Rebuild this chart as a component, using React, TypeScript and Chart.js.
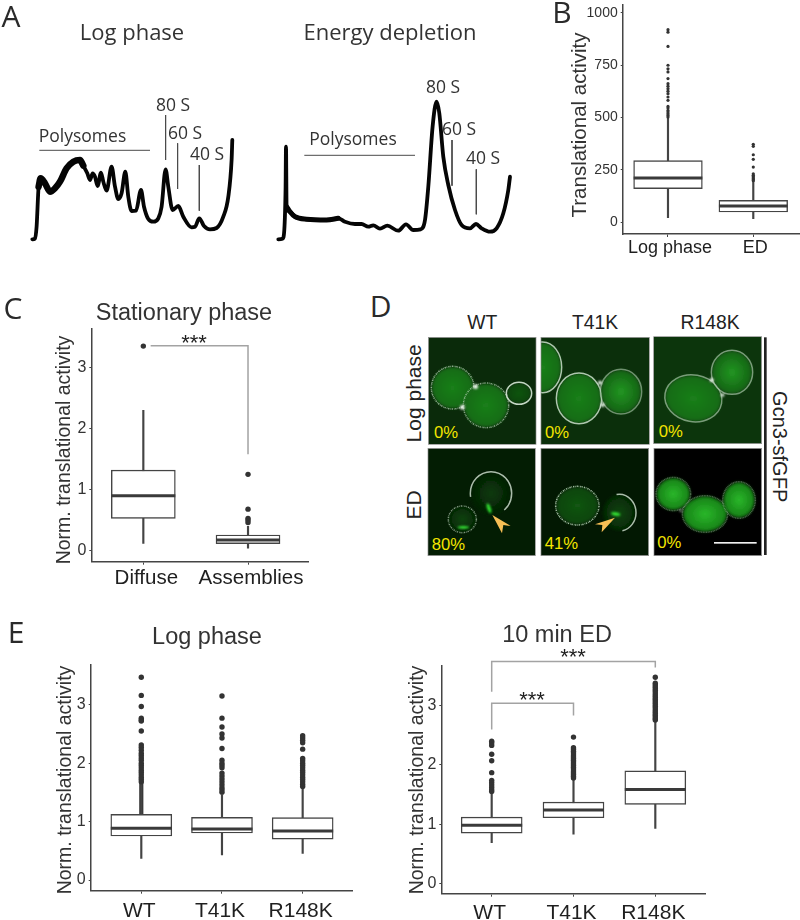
import React, { useEffect, useRef } from "react";
import { Chart, registerables } from "chart.js";

Chart.register(...registerables);

const SANS = "'Liberation Sans', Arial, sans-serif";
const HUMAN = "'Open Sans', 'Noto Sans', sans-serif";
const INK = "#333333";
const BOX = "#444444";
const BRACKET = "#a3a3a3";

/* Panel A: polysome traces */
const logTraceX = [0, 2.7, 4.3, 6.3, 8.3, 12.7, 17.7, 22.7, 27.7, 34.3, 41, 47.7, 51, 55, 57.7, 60.3, 62.7, 65.3, 68.7, 71, 74.3, 79.3, 82.7, 86, 89.3, 93, 96, 99.3, 103.7, 108.7, 111.7, 116, 121, 126, 129.3, 133.3, 136, 140.3, 146, 151, 159.3, 162.7, 167, 171.7, 177.7, 184.3, 191, 196, 199.3, 200];
const logTraceY = [0.7, 1.3, 13.3, 53.3, 61.7, 56.7, 48.3, 51.7, 58.3, 71.7, 78.3, 80, 74.3, 66.7, 60, 66.7, 63.3, 54, 67.3, 58.3, 49.3, 73.3, 53.3, 41, 46.7, 68.3, 43.3, 29, 29.3, 50, 33.3, 21, 18.3, 21.7, 33.3, 70.7, 53.3, 30, 34, 23.3, 12.7, 13.3, 21.7, 14, 10.7, 12, 23.3, 43.3, 80, 100];
const logBandX = [6.3, 8.3, 12.7, 17.7, 22.7, 27.7, 34.3, 41, 47.7, 51];
const logBandY = [53.3, 61.7, 56.7, 48.3, 51.7, 58.3, 71.7, 78.3, 80, 74.3];
const edTraceX = [0, 4.3, 6, 7.3, 7.7, 8.3, 11.7, 16.7, 28.3, 48.3, 60, 66.7, 76.7, 83.3, 90, 95, 101.7, 109, 120, 127.7, 135, 142.3, 146.7, 150, 154.3, 158.3, 161, 165, 170, 176.7, 183.3, 191.7, 197.7, 203.3, 211.7, 218.3, 225, 230, 231.7];
const edTraceY = [0.7, 1.3, 10, 53.3, 93.3, 33.3, 28.3, 23.3, 20.7, 20, 21.7, 18.3, 16, 16, 13.3, 14.7, 11.3, 14.3, 9.3, 15.7, 10, 10.7, 20, 53.3, 113.3, 138.3, 126.7, 83.3, 55, 30, 15, 11.7, 16, 11.7, 8.3, 11.7, 26.7, 50, 63.3];
const edBandX = [8.3, 11.7, 16.7, 28.3, 48.3, 60];
const edBandY = [33.3, 28.3, 23.3, 20.7, 20, 21.7];

/* Panel B */
const bCategories = ["Log phase", "ED"];
const bTicks = [0, 250, 500, 750, 1000];
const bLow = [21, 16];
const bQ1 = [160, 48];
const bMedian = [211, 77];
const bQ3 = [294, 104];
const bHigh = [500, 195];
const bOutliersLog = [920, 908, 840, 750, 733, 718, 686, 662, 650, 638, 626, 614, 598, 582, 553, 545, 534, 526, 518, 510, 502];
const bOutliersEd = [372, 362, 322, 300, 263, 231, 224, 218, 212, 207, 202, 198];

/* Panel C */
const cCategories = ["Diffuse", "Assemblies"];
const cTicks = [0, 1, 2, 3];
const cLow = [0.12, 0.04];
const cQ1 = [0.53, 0.115];
const cMedian = [0.9, 0.175];
const cQ3 = [1.32, 0.257];
const cHigh = [2.3, 0.4];
const cOutliersDiffuse = [3.35];
const cOutliersAssemblies = [1.25, 0.68, 0.53, 0.5, 0.46];

/* Panel E */
const eCategories = ["WT", "T41K", "R148K"];
const eTicks = [0, 1, 2, 3];
const logLow = [0.37, 0.43, 0.456];
const logQ1 = [0.753, 0.804, 0.7];
const logMedian = [0.884, 0.873, 0.84];
const logQ3 = [1.124, 1.072, 1.067];
const logHigh = [1.65, 1.45, 1.57];
const logOutliersWT = [3.47, 3.16, 2.97, 2.77, 2.74, 2.72, 2.55, 2.31, 2.27, 2.22, 2.17, 2.13, 2.09, 2.05, 2.0, 1.96, 1.92, 1.88, 1.84, 1.8, 1.76, 1.72, 1.68];
const logOutliersT41K = [3.15, 2.77, 2.62, 2.5, 2.43, 2.25, 2.05, 2.0, 1.96, 1.92, 1.83, 1.78, 1.73, 1.68, 1.63, 1.58, 1.54, 1.5];
const logOutliersR148K = [2.47, 2.43, 2.39, 2.35, 2.24, 2.08, 2.04, 2.0, 1.96, 1.92, 1.88, 1.84, 1.8, 1.76, 1.72, 1.68, 1.64, 1.6];
const edLow = [0.687, 0.833, 0.93];
const edQ1 = [0.85, 1.108, 1.334];
const edMedian = [0.98, 1.238, 1.587];
const edQ3 = [1.12, 1.373, 1.9];
const edHigh = [1.55, 1.78, 2.75];
const edOutliersWT = [2.4, 2.37, 2.33, 2.18, 2.07, 1.87, 1.74, 1.7, 1.66, 1.62, 1.58, 1.55];
const edOutliersT41K = [2.47, 2.29, 2.26, 2.23, 2.2, 2.17, 2.14, 2.11, 2.08, 2.05, 2.02, 1.99, 1.96, 1.93, 1.9, 1.87, 1.84, 1.81, 1.78];
const edOutliersR148K = [3.48, 3.38, 3.35, 3.32, 3.29, 3.26, 3.23, 3.2, 3.17, 3.14, 3.11, 3.08, 3.05, 3.02, 2.99, 2.96, 2.93, 2.9, 2.87, 2.84, 2.81, 2.78, 2.76];

type Txt = { t: string; x: number; y: number; font: string; color?: string; rot?: number; align?: CanvasTextAlign };
type Rect = { left: number; top: number; right: number; bottom: number };
type Spec = { rect: Rect; plot: Rect; config: (rect: Rect, plot: Rect) => any; texts: Txt[] };

const pts = (xs: number[], ys: number[]) => xs.map((x, i) => ({ x, y: ys[i] }));
const rule = (xs: number[], ys: number[], color = "#4a4a4a", width = 1, order = 3) => ({
  type: "scatter", data: pts(xs, ys), showLine: true, pointRadius: 0, borderColor: color, borderWidth: width, tension: 0, clip: false, order,
});

const textPlugin = (texts: Txt[], rect: Rect) => ({
  id: "pageText",
  afterDraw(chart: any) {
    const ctx = chart.ctx;
    for (const p of texts) {
      ctx.save();
      ctx.translate(p.x - rect.left, p.y - rect.top);
      if (p.rot) ctx.rotate(p.rot);
      ctx.font = p.font;
      ctx.fillStyle = p.color || INK;
      ctx.textAlign = p.align || "center";
      ctx.textBaseline = "middle";
      ctx.fillText(p.t, 0, 0);
      ctx.restore();
    }
  },
});

function traceConfig(xMax: number, yMax: number, datasets: any[]) {
  return (rect: Rect, plot: Rect) => ({
    type: "scatter",
    data: { datasets },
    options: {
      animation: false, responsive: false, events: [],
      layout: { autoPadding: false, padding: { left: plot.left - rect.left, top: plot.top - rect.top, right: rect.right - plot.right, bottom: rect.bottom - plot.bottom } },
      plugins: { legend: { display: false }, tooltip: { enabled: false } },
      scales: {
        x: { type: "linear", display: false, min: 0, max: xMax },
        y: { type: "linear", display: false, min: 0, max: yMax },
      },
    },
  });
}

const trace = (xs: number[], ys: number[], width: number) => ({
  data: pts(xs, ys), showLine: true, pointRadius: 0, borderColor: "#050505", borderWidth: width,
  cubicInterpolationMode: "monotone", borderJoinStyle: "round", borderCapStyle: "round", clip: false, order: 2,
});

type BoxOpts = {
  cats: string[]; yTicks: number[]; xMin: number; xMax: number; yMin: number; yMax: number;
  low: number[]; q1: number[]; med: number[]; q3: number[]; high: number[]; outliers: number[][];
  boxW: number; dotR: number; tickSize: number; catSize: number; catPad: number; labelOffset: number; extra?: any[];
};

function boxConfig(o: BoxOpts) {
  const xs = o.cats.map((_, i) => i + 1);
  return (rect: Rect, plot: Rect) => ({
    type: "bar",
    data: {
      datasets: [
        { type: "bar", data: xs.map((x, i) => ({ x, y: [o.low[i], o.high[i]] })), backgroundColor: BOX, barThickness: 1.5, grouped: false, order: 6 },
        { type: "bar", data: xs.map((x, i) => ({ x, y: [o.q1[i], o.q3[i]] })), backgroundColor: "#ffffff", borderColor: BOX, borderWidth: 1.4, borderSkipped: false, barThickness: o.boxW, grouped: false, order: 5 },
        { type: "scatter", data: pts(xs, o.med), pointStyle: "line", pointRadius: o.boxW / 2, pointBorderWidth: 3, pointBorderColor: "#3a3a3a", showLine: false, order: 4 },
        { type: "scatter", data: o.outliers.flatMap((vals, i) => vals.map((y) => ({ x: xs[i], y }))), pointRadius: o.dotR, pointBackgroundColor: INK, pointBorderWidth: 0, showLine: false, order: 3 },
        ...(o.extra || []),
      ],
    },
    options: {
      animation: false, responsive: false, events: [],
      layout: { autoPadding: false, padding: { top: plot.top - rect.top, right: rect.right - plot.right, left: 0, bottom: 0 } },
      plugins: { legend: { display: false }, tooltip: { enabled: false } },
      scales: {
        x: {
          type: "linear", offset: false, min: o.xMin, max: o.xMax,
          grid: { offset: false, drawOnChartArea: false, drawTicks: true, tickLength: 3, tickColor: BOX, tickWidth: 1 },
          border: { color: BOX, width: 1.5 },
          afterBuildTicks: (s: any) => { s.ticks = xs.map((value) => ({ value })); },
          afterFit: (s: any) => { s.height = rect.bottom - plot.bottom; s.paddingLeft = s.paddingRight = s.paddingTop = s.paddingBottom = 0; },
          ticks: {
            autoSkip: false, maxRotation: 0, minRotation: 0, padding: o.catPad, labelOffset: o.labelOffset, color: "#1f1f1f",
            font: { family: SANS, size: o.catSize },
            callback: (v: number) => o.cats[v - 1],
          },
        },
        y: {
          type: "linear", min: o.yMin, max: o.yMax,
          grid: { drawOnChartArea: false, drawTicks: true, tickLength: 2, tickColor: BOX, tickWidth: 1 },
          border: { color: BOX, width: 1.5 },
          afterBuildTicks: (s: any) => { s.ticks = o.yTicks.map((value) => ({ value })); },
          afterFit: (s: any) => { s.width = plot.left - rect.left; s.paddingLeft = s.paddingRight = s.paddingTop = s.paddingBottom = 0; },
          ticks: { padding: 3, color: INK, font: { family: SANS, size: o.tickSize }, callback: (v: number) => String(v) },
        },
      },
    },
  });
}

const letter = (t: string, x: number, y: number): Txt => ({ t, x, y, font: `30px ${HUMAN}`, color: "#2a2a2a" });
const q = -Math.PI / 2;

const specs: Spec[] = [
  {
    rect: { left: 0, top: 0, right: 262, bottom: 250 },
    plot: { left: 32.3, top: 110, right: 237.3, bottom: 240 },
    config: traceConfig(205, 130, [
      trace(logTraceX, logTraceY, 3.8),
      trace(logBandX, logBandY, 6.5),
      rule([7, 117.7], [89.7, 89.7]),
      rule([133.3, 133.3], [125, 80]),
      rule([145.3, 145.3], [96.7, 51]),
      rule([167, 167], [75, 29.3]),
    ]),
    texts: [
      letter("A", 11, 18),
      { t: "Log phase", x: 132, y: 34, font: `22px ${HUMAN}` },
      { t: "Polysomes", x: 82.5, y: 137, font: `17.5px ${HUMAN}` },
      { t: "80 S", x: 173, y: 106, font: `17.5px ${HUMAN}` },
      { t: "60 S", x: 185, y: 134, font: `17.5px ${HUMAN}` },
      { t: "40 S", x: 207, y: 155, font: `17.5px ${HUMAN}` },
    ],
  },
  {
    rect: { left: 262, top: 0, right: 530, bottom: 250 },
    plot: { left: 278.3, top: 95, right: 513.3, bottom: 240 },
    config: traceConfig(235, 145, [
      trace(edTraceX, edTraceY, 3.8),
      trace(edBandX, edBandY, 5),
      rule([26, 136.7], [84.7, 84.7]),
      rule([173.7, 173.7], [100, 54.3]),
      rule([198, 198], [70.7, 25.7]),
    ]),
    texts: [
      { t: "Energy depletion", x: 390, y: 34, font: `22px ${HUMAN}` },
      { t: "Polysomes", x: 353, y: 140, font: `17.5px ${HUMAN}` },
      { t: "80 S", x: 443, y: 88, font: `17.5px ${HUMAN}` },
      { t: "60 S", x: 459, y: 130, font: `17.5px ${HUMAN}` },
      { t: "40 S", x: 483, y: 159, font: `17.5px ${HUMAN}` },
    ],
  },
  {
    rect: { left: 537, top: 0, right: 800, bottom: 262 },
    plot: { left: 622.7, top: 5, right: 799, bottom: 234 },
    config: boxConfig({
      cats: bCategories, yTicks: bTicks, xMin: 0.469, xMax: 2.536, yMin: -57, yMax: 1038,
      low: bLow, q1: bQ1, med: bMedian, q3: bQ3, high: bHigh, outliers: [bOutliersLog, bOutliersEd],
      boxW: 68.7, dotR: 1.6, tickSize: 14, catSize: 18, catPad: 0, labelOffset: 2,
    }),
    texts: [
      letter("B", 562, 14),
      { t: "Translational activity", x: 580, y: 125, font: `20.5px ${SANS}`, rot: q },
    ],
  },
  {
    rect: { left: 0, top: 294, right: 330, bottom: 600 },
    plot: { left: 91.3, top: 329, right: 308, bottom: 561.7 },
    config: boxConfig({
      cats: cCategories, yTicks: cTicks, xMin: 0.503, xMax: 2.573, yMin: -0.18, yMax: 3.63,
      low: cLow, q1: cQ1, med: cMedian, q3: cQ3, high: cHigh, outliers: [cOutliersDiffuse, cOutliersAssemblies],
      boxW: 64, dotR: 2.7, tickSize: 16, catSize: 20.5, catPad: 1, labelOffset: 3,
      extra: [rule([1.07, 2, 2], [3.356, 3.356, 1.58], BRACKET, 1.5, 7)],
    }),
    texts: [
      letter("C", 13, 310),
      { t: "Stationary phase", x: 184, y: 314, font: `23.5px ${SANS}` },
      { t: "Norm. translational activity", x: 65, y: 450, font: `19.5px ${SANS}`, rot: q },
      { t: "***", x: 194, y: 344, font: `22px ${SANS}`, color: "#1f1f1f" },
    ],
  },
  {
    rect: { left: 0, top: 618, right: 375, bottom: 920 },
    plot: { left: 90.7, top: 665, right: 352.7, bottom: 890.7 },
    config: boxConfig({
      cats: eCategories, yTicks: eTicks, xMin: 0.373, xMax: 3.62, yMin: -0.183, yMax: 3.68,
      low: logLow, q1: logQ1, med: logMedian, q3: logQ3, high: logHigh, outliers: [logOutliersWT, logOutliersT41K, logOutliersR148K],
      boxW: 61, dotR: 2.7, tickSize: 16, catSize: 21, catPad: 5, labelOffset: -2,
      extra: [{ type: "bar", data: [{ x: 1, y: [1.12, 1.68] }], backgroundColor: INK, barThickness: 3.5, grouped: false, order: 7 }],
    }),
    texts: [
      letter("E", 16, 634),
      { t: "Log phase", x: 207, y: 638, font: `23.5px ${SANS}` },
      { t: "Norm. translational activity", x: 66, y: 780, font: `19.5px ${SANS}`, rot: q },
    ],
  },
  {
    rect: { left: 375, top: 618, right: 760, bottom: 920 },
    plot: { left: 441.3, top: 665.7, right: 705.7, bottom: 893.7 },
    config: boxConfig({
      cats: eCategories, yTicks: eTicks, xMin: 0.384, xMax: 3.616, yMin: -0.174, yMax: 3.676,
      low: edLow, q1: edQ1, med: edMedian, q3: edQ3, high: edHigh, outliers: [edOutliersWT, edOutliersT41K, edOutliersR148K],
      boxW: 61, dotR: 2.7, tickSize: 16, catSize: 21, catPad: 4, labelOffset: -2,
      extra: [
        rule([1, 1, 3, 3], [3.236, 3.748, 3.748, 3.647], BRACKET, 1.5, 7),
        rule([1, 1, 2, 2], [2.6, 3.044, 3.044, 2.836], BRACKET, 1.5, 7),
      ],
    }),
    texts: [
      { t: "10 min ED", x: 557, y: 636, font: `23.5px ${SANS}` },
      { t: "Norm. translational activity", x: 418, y: 780, font: `19.5px ${SANS}`, rot: q },
      { t: "***", x: 573, y: 658, font: `22px ${SANS}`, color: "#1f1f1f" },
      { t: "***", x: 532, y: 701, font: `22px ${SANS}`, color: "#1f1f1f" },
    ],
  },
];

function ChartPanel({ spec }: { spec: Spec }) {
  const ref = useRef<HTMLCanvasElement | null>(null);
  useEffect(() => {
    if (!ref.current) return;
    const cfg = spec.config(spec.rect, spec.plot);
    cfg.plugins = [textPlugin(spec.texts, spec.rect)];
    const chart = new Chart(ref.current, cfg);
    return () => chart.destroy();
  }, [spec]);
  const { left, top, right, bottom } = spec.rect;
  return <canvas ref={ref} width={right - left} height={bottom - top} style={{ position: "absolute", left, top, width: right - left, height: bottom - top }} />;
}

/* Panel D micrographs: decorative, in the zoomed coordinate system of the panel */
type Cell = { cx: number; cy: number; rx: number; ry: number; rot?: number; fill: string; ring: number; dash?: string; arc?: [number, number] };
const tiles = [
  { x: 265, y: 142, w: 323, h: 321, bg: "#0a2a0a" },
  { x: 603, y: 142, w: 325, h: 321, bg: "#0b2f0b" },
  { x: 941, y: 140, w: 324, h: 321, bg: "#0c350c" },
  { x: 264, y: 475, w: 322, h: 322, bg: "#031d03" },
  { x: 603, y: 475, w: 323, h: 322, bg: "#021802" },
  { x: 942, y: 475, w: 323, h: 322, bg: "#000000" },
];
const cells: Cell[][] = [
  [
    { cx: 338, cy: 293, rx: 64, ry: 64, fill: "url(#g1)", ring: 0.6, dash: "4 2 2 3" },
    { cx: 438, cy: 346, rx: 68, ry: 67, fill: "url(#g1)", ring: 0.55, dash: "4 2 2 3" },
    { cx: 537, cy: 310, rx: 38, ry: 33, fill: "url(#g3)", ring: 0.85 },
  ],
  [
    { cx: 608, cy: 232, rx: 57, ry: 76, fill: "url(#g1)", ring: 0.75 },
    { cx: 717, cy: 325, rx: 68, ry: 76, fill: "url(#g1)", ring: 0.75 },
    { cx: 843, cy: 305, rx: 62, ry: 67, fill: "url(#g2)", ring: 0.45 },
  ],
  [
    { cx: 1060, cy: 325, rx: 86, ry: 70, rot: 10, fill: "url(#g1)", ring: 0.5 },
    { cx: 1176, cy: 247, rx: 62, ry: 66, fill: "url(#g2)", ring: 0.5 },
  ],
  [
    { cx: 453, cy: 610, rx: 62, ry: 65, fill: "url(#g6)", ring: 0.75, arc: [47, 67] },
    { cx: 367, cy: 688, rx: 42, ry: 40, fill: "url(#g4)", ring: 0.55, dash: "4 2 2 3" },
  ],
  [
    { cx: 712, cy: 647, rx: 65, ry: 58, fill: "url(#g3)", ring: 0.7, dash: "4 2 2 3" },
    { cx: 838, cy: 668, rx: 50, ry: 55, fill: "url(#g4)", ring: 0.75, arc: [72, 50] },
  ],
  [
    { cx: 1000, cy: 612, rx: 52, ry: 50, fill: "url(#g5)", ring: 0.3, dash: "3 2" },
    { cx: 1095, cy: 672, rx: 68, ry: 55, fill: "url(#g5)", ring: 0.3, dash: "3 2" },
    { cx: 1197, cy: 630, rx: 49, ry: 55, fill: "url(#g5)", ring: 0.3, dash: "3 2" },
  ],
];
const whiteSpots = [[407, 290, 7], [367, 352, 7], [780, 278, 6], [788, 345, 6], [1115, 270, 6], [1148, 315, 5], [1022, 662, 3]];
const greenSpots = [[447, 655, 5, 15, -20], [370, 712, 18, 4, 0], [827, 672, 14, 5, 10]];
const arrows = ["457,675 512,708 490,705 486,730", "825,683 785,727 787,705 765,703"];
const pctLabels = [["0%", 282, 445], ["0%", 615, 445], ["0%", 956, 441], ["80%", 275, 780], ["41%", 614, 778], ["0%", 952, 774]];
const colLabels = [["WT", 427], ["T41K", 765], ["R148K", 1110]];

function PanelD() {
  return (
    <svg width={460} height={300} viewBox="0 0 1380 900" style={{ position: "absolute", left: 340, top: 290 }}>
      <defs>
        <radialGradient id="g1"><stop offset="0%" stopColor="#1a7f1a" /><stop offset="100%" stopColor="#156a15" /></radialGradient>
        <radialGradient id="g2"><stop offset="0%" stopColor="#229622" /><stop offset="100%" stopColor="#146214" /></radialGradient>
        <radialGradient id="g3"><stop offset="0%" stopColor="#125512" /><stop offset="100%" stopColor="#0d440d" /></radialGradient>
        <radialGradient id="g4"><stop offset="0%" stopColor="#0c430c" /><stop offset="100%" stopColor="#052805" /></radialGradient>
        <radialGradient id="g5"><stop offset="0%" stopColor="#2ab82a" /><stop offset="100%" stopColor="#167f16" /></radialGradient>
        <radialGradient id="g6"><stop offset="0%" stopColor="#0a3a0a" /><stop offset="100%" stopColor="#041f04" /></radialGradient>
        <filter id="soft" x="-20%" y="-20%" width="140%" height="140%"><feGaussianBlur stdDeviation="4" /></filter>
        <filter id="spot" x="-80%" y="-80%" width="260%" height="260%"><feGaussianBlur stdDeviation="2.5" /></filter>
        {tiles.map((t, i) => <clipPath id={`c${i}`} key={i}><rect x={t.x} y={t.y} width={t.w} height={t.h} /></clipPath>)}
      </defs>
      <text x={122} y={58} fontFamily={HUMAN} fontSize={90} fill="#2a2a2a" textAnchor="middle" dominantBaseline="middle">D</text>
      {colLabels.map(([t, x]) => (
        <text key={t as string} x={x as number} y={117} fontFamily={SANS} fontSize={58} fill="#222" textAnchor="middle">{t}</text>
      ))}
      <text transform="translate(243,310) rotate(-90)" fontFamily={SANS} fontSize={63} fill="#222" textAnchor="middle">Log phase</text>
      <text transform="translate(243,645) rotate(-90)" fontFamily={SANS} fontSize={63} fill="#222" textAnchor="middle">ED</text>
      <text transform="translate(1299,470) rotate(90)" fontFamily={SANS} fontSize={60} fill="#222" textAnchor="middle">Gcn3-sfGFP</text>
      <rect x={1272} y={142} width={8} height={653} fill="#222" />
      {tiles.map((t, i) => (
        <g key={i} clipPath={`url(#c${i})`}>
          <rect x={t.x} y={t.y} width={t.w} height={t.h} fill={t.bg} />
          {cells[i].map((c, j) => (
            <g key={j} transform={`rotate(${c.rot || 0} ${c.cx} ${c.cy})`}>
              <ellipse cx={c.cx} cy={c.cy} rx={c.rx - 2} ry={c.ry - 2} fill={c.fill} filter="url(#soft)" />
              {c.arc ? (
                <ellipse cx={c.cx} cy={c.cy} rx={c.rx} ry={c.ry} fill="none" stroke="#e4f2e4" strokeOpacity={c.ring} strokeWidth={4.5} pathLength={100}
                  strokeDasharray={`${c.arc[1]} ${100 - c.arc[1]}`} strokeDashoffset={-c.arc[0]} />
              ) : (
                <ellipse cx={c.cx} cy={c.cy} rx={c.rx} ry={c.ry} fill="none" stroke="#e4f2e4" strokeOpacity={c.ring} strokeWidth={4.5} strokeDasharray={c.dash} />
              )}
            </g>
          ))}
        </g>
      ))}
      {tiles.map((t, i) => <rect key={i} x={t.x} y={t.y} width={t.w} height={t.h} fill="none" stroke="#8a8a8a" strokeWidth={2} />)}
      {whiteSpots.map(([x, y, r], i) => <circle key={i} cx={x} cy={y} r={r} fill="#f4fff4" filter="url(#spot)" />)}
      {greenSpots.map(([x, y, rx, ry, rot], i) => (
        <ellipse key={i} cx={x} cy={y} rx={rx} ry={ry} transform={`rotate(${rot} ${x} ${y})`} fill="#35ee35" filter="url(#spot)" />
      ))}
      {arrows.map((p, i) => <polygon key={i} points={p} fill="#f7bf55" />)}
      {pctLabels.map(([t, x, y], i) => (
        <text key={i} x={x as number} y={y as number} fontFamily={SANS} fontSize={50} fill="#f4e600">{t}</text>
      ))}
      <rect x={1122} y={756} width={128} height={5} fill="#f0f0f0" />
    </svg>
  );
}

export default function App() {
  return (
    <div style={{ position: "absolute", left: 0, top: 0, width: 800, height: 920, background: "#ffffff", overflow: "hidden" }}>
      {specs.map((s, i) => <ChartPanel key={i} spec={s} />)}
      <PanelD />
    </div>
  );
}
